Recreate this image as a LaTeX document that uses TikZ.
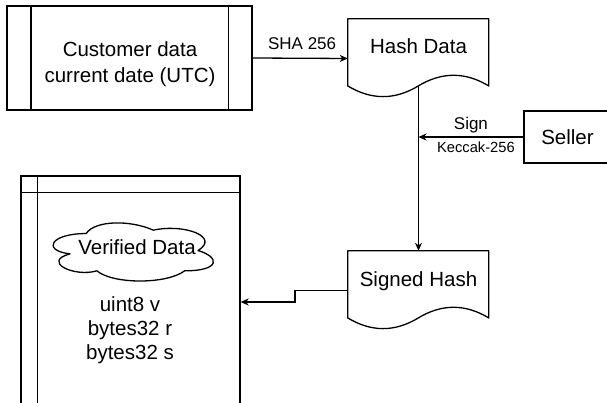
\documentclass[tikz,border=0pt]{standalone}
\usepackage{fontspec}
\setmainfont{Liberation Sans}
\usetikzlibrary{arrows.meta,calc}

\tikzset{
  outline/.style={draw, line width=1.3pt},
  shapebox/.style={outline, rectangle, inner sep=0pt},
  bigtext/.style={font=\fontsize{20.5}{26}\selectfont, inner sep=0pt, align=center},
  listtext/.style={font=\fontsize{20.5}{24}\selectfont, inner sep=0pt, align=center},
  edgetext/.style={font=\fontsize{17}{20}\selectfont, inner sep=0pt},
  smalltext/.style={font=\fontsize{14.7}{17}\selectfont, inner sep=0pt},
  docnode/.style={rectangle, inner sep=0pt, minimum width=141pt, minimum height=79pt,
    text height=15pt, text depth=24pt, font=\fontsize{20.5}{24}\selectfont},
  flow/.style={outline, -{Stealth[length=8pt,width=7pt,inset=2.5pt]}},
}

% Document outline with a wavy bottom edge, drawn over a docnode
\newcommand\docoutline[1]{%
  \begin{scope}[shift={(#1.north west)}, x=141pt, y=-79pt]
    \draw[outline, line join=round] (0,0) -- (1,0) -- (1,0.85)
      .. controls (0.8333,0.67) and (0.6667,0.67) .. (0.5,0.85)
      .. controls (0.3333,1.03) and (0.1667,1.03) .. (0,0.85) -- cycle;
  \end{scope}}

\begin{document}
\begin{tikzpicture}[x=1pt, y=-1pt]
  \useasboundingbox (0,0) rectangle (607,403);
  \fill[white] (0,0) rectangle (607,403);
  \clip (0,0) rectangle (607,403);

  % Process box with side bars
  \node[shapebox, minimum width=245pt, minimum height=104pt] (cust) at (129.5,58) {};
  \draw[outline] ($(cust.north west)+(24.5pt,0pt)$) -- ($(cust.south west)+(24.5pt,0pt)$);
  \draw[outline] ($(cust.north east)+(-24.5pt,0pt)$) -- ($(cust.south east)+(-24.5pt,0pt)$);
  \node[bigtext] (custtext) at (130,64) {Customer data\\current date (UTC)};

  % Documents
  \node[docnode] (hash) at (418.5,58.5) {Hash Data};
  \docoutline{hash}
  \node[docnode] (signed) at (418.5,290.5) {Signed Hash};
  \docoutline{signed}

  % Seller
  \node[shapebox, minimum width=87pt, minimum height=52pt,
        font=\fontsize{20.5}{24}\selectfont] (seller) at (567.5,137) {Seller};

  % Internal storage
  \node[shapebox, minimum width=219pt, minimum height=252pt] (store) at (130.5,302) {};
  \draw[outline] ($(store.north west)+(17pt,0pt)$) -- ($(store.south west)+(17pt,0pt)$);
  \draw[outline] ($(store.north west)+(0pt,-17pt)$) -- ($(store.north east)+(0pt,-17pt)$);

  % Cloud
  \begin{scope}[shift={(41.4,216.6)}, x=179pt, y=-67.8pt]
    \draw[outline, line join=round] (0.25,0.25)
      .. controls (0.05,0.25) and (0,0.5) .. (0.16,0.55)
      .. controls (0,0.66) and (0.18,0.9) .. (0.31,0.8)
      .. controls (0.4,1) and (0.7,1) .. (0.8,0.8)
      .. controls (1,0.8) and (1,0.6) .. (0.875,0.5)
      .. controls (1,0.3) and (0.8,0.1) .. (0.625,0.2)
      .. controls (0.5,0.05) and (0.3,0.05) .. (0.25,0.25) -- cycle;
  \end{scope}
  \node[bigtext] (verified) at (137,247) {Verified Data};
  \node[listtext] (fields) at (130,330.6) {uint8 v\\bytes32 r\\bytes32 s};

  % Connectors
  \draw[flow] (cust.east) -- node[edgetext, pos=0.52, anchor=base, yshift=9pt] {SHA 256} (hash.west);

  \coordinate (hashbottom) at ($(hash.south)+(0pt,11.85pt)$);
  \draw[flow] (hashbottom) -- (signed.north);

  \coordinate (signjoin) at (hashbottom |- seller.west);
  \draw[flow] (seller.west) -- node[edgetext, anchor=base, yshift=7.5pt] {Sign}
    node[smalltext, anchor=base, xshift=5pt, yshift=-16pt] {Keccak-256} (signjoin);

  \coordinate (bend) at (295,0);
  \draw[flow] (signed.west) -- (signed.west -| bend) |- (store.east);
\end{tikzpicture}
\end{document}
